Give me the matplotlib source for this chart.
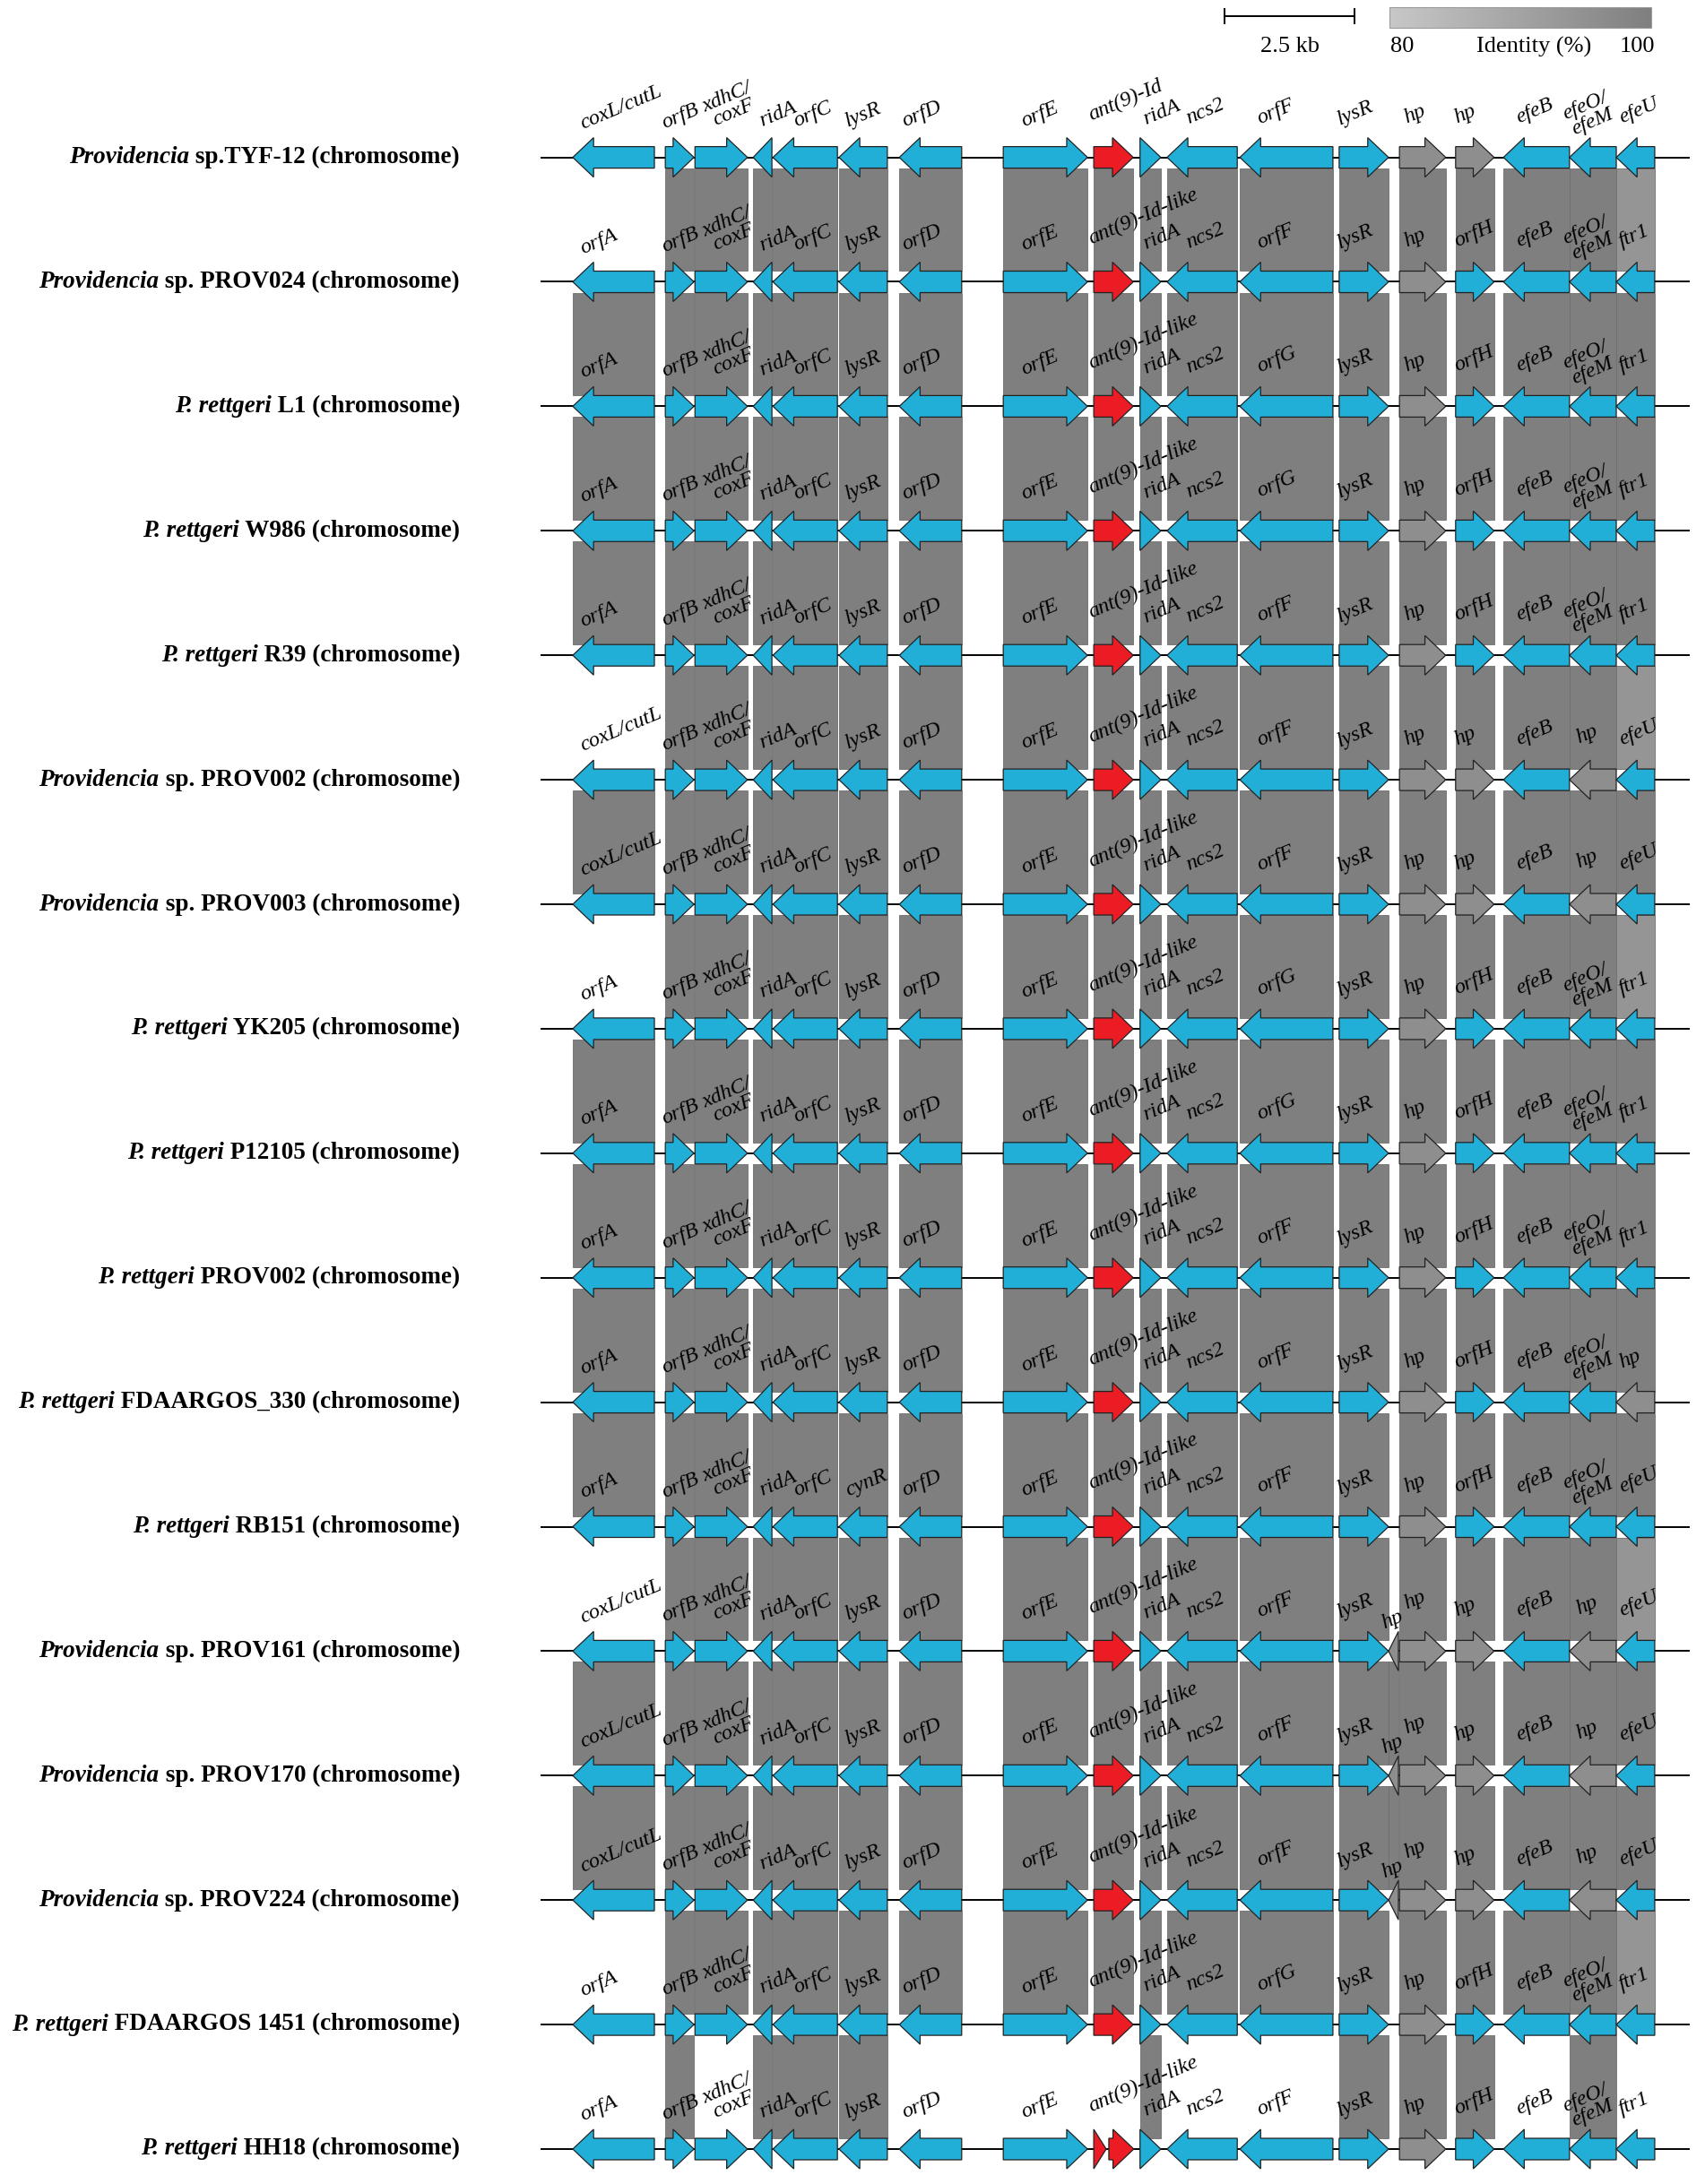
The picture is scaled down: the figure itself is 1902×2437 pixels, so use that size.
import matplotlib
matplotlib.use('Agg')
import matplotlib.pyplot as plt
import numpy as np
from matplotlib.patches import Polygon, Rectangle
from matplotlib.colors import LinearSegmentedColormap, Normalize

plt.rcParams['font.family'] = ['Liberation Serif', 'DejaVu Serif']

# ---- data -------------------------------------------------------------
# strain labels (italic genus part + roman rest)
genus = ['Providencia', 'Providencia', 'P. rettgeri', 'P. rettgeri', 'P. rettgeri',
         'Providencia', 'Providencia', 'P. rettgeri', 'P. rettgeri', 'P. rettgeri',
         'P. rettgeri', 'P. rettgeri', 'Providencia', 'Providencia', 'Providencia',
         'P. rettgeri', 'P. rettgeri']
strain = [' sp.TYF-12 (chromosome)', ' sp. PROV024 (chromosome)', ' L1 (chromosome)',
          ' W986 (chromosome)', ' R39 (chromosome)', ' sp. PROV002 (chromosome)',
          ' sp. PROV003 (chromosome)', ' YK205 (chromosome)', ' P12105 (chromosome)',
          ' PROV002 (chromosome)', ' FDAARGOS_330 (chromosome)', ' RB151 (chromosome)',
          ' sp. PROV161 (chromosome)', ' sp. PROV170 (chromosome)', ' sp. PROV224 (chromosome)',
          ' FDAARGOS 1451 (chromosome)', ' HH18 (chromosome)']

# gene slots, kb from the left end of the fragment
slot_start = [0.62, 2.40, 2.97, 4.09, 4.47, 5.74, 6.90, 8.90, 10.64, 11.53,
              12.05, 13.45, 15.36, 16.52, 17.60, 18.52, 19.79, 20.69]
slot_end = [2.19, 2.95, 3.98, 4.45, 5.71, 6.67, 8.10, 10.52, 11.40, 11.93,
            13.40, 15.24, 16.31, 17.41, 18.34, 19.79, 20.69, 21.43]
slot_strand = [-1, 1, 1, -1, -1, -1, -1, 1, 1, 1, -1, -1, 1, 1, 1, -1, -1, -1]
fragment_len = 22.10

# per-row gene names for the slots that change
first_gene = ['coxL/cutL', 'orfA', 'orfA', 'orfA', 'orfA', 'coxL/cutL', 'coxL/cutL', 'orfA', 'orfA',
              'orfA', 'orfA', 'orfA', 'coxL/cutL', 'coxL/cutL', 'coxL/cutL', 'orfA', 'orfA']
lysr_col = ['lysR'] * 11 + ['cynR'] + ['lysR'] * 5
ant_col = ['ant(9)-Id'] + ['ant(9)-Id-like'] * 16
orff_col = ['orfF', 'orfF', 'orfG', 'orfG', 'orfF', 'orfF', 'orfF', 'orfG', 'orfG',
            'orfF', 'orfF', 'orfF', 'orfF', 'orfF', 'orfF', 'orfG', 'orfF']
hp2_col = ['hp', 'orfH', 'orfH', 'orfH', 'orfH', 'hp', 'hp', 'orfH', 'orfH',
           'orfH', 'orfH', 'orfH', 'hp', 'hp', 'hp', 'orfH', 'orfH']
efeo_col = ['efeO/\nefeM', 'efeO/\nefeM', 'efeO/\nefeM', 'efeO/\nefeM', 'efeO/\nefeM', 'hp', 'hp',
            'efeO/\nefeM', 'efeO/\nefeM', 'efeO/\nefeM', 'efeO/\nefeM', 'efeO/\nefeM', 'hp', 'hp', 'hp',
            'efeO/\nefeM', 'efeO/\nefeM']
efeu_col = ['efeU', 'ftr1', 'ftr1', 'ftr1', 'ftr1', 'efeU', 'efeU', 'ftr1', 'ftr1',
            'ftr1', 'hp', 'efeU', 'efeU', 'efeU', 'efeU', 'ftr1', 'ftr1']

# extra small hp gene (rows PROV161/170/224)
tiny_hp_rows = [12, 13, 14]
tiny_hp = (16.31, 16.50, -1)
# split ant(9) in HH18
hh18_ant_parts = [(10.64, 10.88), (10.93, 11.41)]
# slots shared between FDAARGOS 1451 and HH18
hh18_shared = [1, 3, 4, 5, 9, 12, 13, 14, 16]
# identity of the last-slot (efeU/ftr1) band per row pair
efeu_identity = [94, 100, 100, 100, 94, 100, 94, 100, 100, 100, 100, 94, 100, 100, 94, 100]

# ---- layout -----------------------------------------------------------
W, H = 1902, 2437
PX_KB = 58.0           # pixels per kb
X0 = 603.0             # pixel of kb 0
ROW0, ROWD = 175.6, 138.9
BH, HH, HL = 12 / ROWD, 22 / ROWD, 0.40

BLUE, RED, GREY = '#22afd7', '#ec1c24', '#8e8e8e'
cmap = LinearSegmentedColormap.from_list('ident', ['#c8c8c8', '#7f7f7f'])
norm = Normalize(80, 100)

def py(px):
    return (px - ROW0) / ROWD

def kb(px):
    return (px - X0) / PX_KB

fig = plt.figure(figsize=(W / 100, H / 100), dpi=100)
ax = fig.add_axes([0, 0, 1, 1])
ax.set_xlim(kb(0), kb(W))
ax.set_ylim(py(H), py(0))
ax.axis('off')

n = len(genus)
rows = []
for i in range(n):
    names = [first_gene[i], 'orfB', 'xdhC/\ncoxF', 'ridA', 'orfC', lysr_col[i], 'orfD', 'orfE',
             ant_col[i], 'ridA', 'ncs2', orff_col[i], 'lysR', 'hp', hp2_col[i], 'efeB',
             efeo_col[i], efeu_col[i]]
    rows.append(names)


def gene_pts(s, e, strand, y):
    L = e - s
    if strand > 0:
        tip, back, sgn = e, s, -1
    else:
        tip, back, sgn = s, e, 1
    if L <= HL:
        return [(back, y - HH), (tip, y), (back, y + HH)]
    base = tip + sgn * HL
    return [(back, y - BH), (base, y - BH), (base, y - HH), (tip, y),
            (base, y + HH), (base, y + BH), (back, y + BH)]


# bands between neighbouring rows
for i in range(n - 1):
    y1, y2 = i + BH, i + 1 - BH
    for j in range(len(slot_start)):
        if i == n - 2 and j not in hh18_shared:
            continue
        if j == 0 and first_gene[i] != first_gene[i + 1]:
            continue
        ident = efeu_identity[i] if j == len(slot_start) - 1 else 100
        ax.add_patch(Rectangle((slot_start[j], y1), slot_end[j] - slot_start[j], y2 - y1,
                               facecolor=cmap(norm(ident)), edgecolor='#6e6e6e',
                               lw=0.6, zorder=1))
    if i in tiny_hp_rows and i + 1 in tiny_hp_rows:
        ax.add_patch(Rectangle((tiny_hp[0], y1), tiny_hp[1] - tiny_hp[0], y2 - y1,
                               facecolor=cmap(norm(100)), edgecolor='#6e6e6e', lw=0.6, zorder=1))

# label anchor (bottom-left of text box), px
lab_x = [652, 743, 796, 852, 890, 948, 1011, 1144, 1219, 1280,
         1328, 1407, 1497, 1571, 1627, 1696, 1756, 1811]
lab_dy = [-27, -28, -29, -30, -30, -30, -30, -30, -37, -32,
          -33, -33, -32, -34, -34, -34, -20, -34]
ROT = 23
FS_GENE = 17.5

for i, names in enumerate(rows):
    ax.plot([0, fragment_len], [i, i], color='black', lw=1.4, zorder=2,
            solid_capstyle='butt')
    for j, name in enumerate(names):
        s, e, st = slot_start[j], slot_end[j], slot_strand[j]
        col = GREY if name == 'hp' else (RED if j == 8 else BLUE)
        if j == 8 and i == n - 1:
            for a, b in hh18_ant_parts:
                ax.add_patch(Polygon(gene_pts(a, b, st, i), closed=True, facecolor=col,
                                     edgecolor='#222222', lw=0.9, zorder=3))
        else:
            ax.add_patch(Polygon(gene_pts(s, e, st, i), closed=True, facecolor=col,
                                 edgecolor='#222222', lw=0.9, zorder=3))
        lx = kb(lab_x[j])
        ldy = lab_dy[j]
        if j == 16 and name == 'hp':
            lx, ldy = kb(1763), -36
        if j == 13 and i in tiny_hp_rows:
            ldy = -42
        ax.text(lx, i + ldy / ROWD, name, rotation=ROT, rotation_mode='anchor',
                ha='left', va='bottom', fontsize=FS_GENE, style='italic',
                multialignment='center', linespacing=0.85, zorder=4)
    if i in tiny_hp_rows:
        ax.add_patch(Polygon(gene_pts(tiny_hp[0], tiny_hp[1], tiny_hp[2], i), closed=True,
                             facecolor=GREY, edgecolor='#222222', lw=0.9, zorder=3))
        ax.text(kb(1546), i - 20 / ROWD, 'hp', rotation=ROT, rotation_mode='anchor',
                ha='left', va='bottom', fontsize=FS_GENE, style='italic', zorder=4)

# strain names
fig.canvas.draw()
rend = fig.canvas.get_renderer()
inv = ax.transData.inverted()
x_right = kb(513)
FS_NAME = 19.5
for i in range(n):
    t = ax.text(x_right, i, strain[i], ha='right', va='center', fontsize=FS_NAME,
                fontweight='bold')
    bb = t.get_window_extent(renderer=rend)
    x_left = inv.transform((bb.x0, bb.y0))[0]
    ax.text(x_left, i, genus[i], ha='right', va='center', fontsize=FS_NAME,
            fontweight='bold', style='italic')

# scale bar
sb0 = kb(1366)
sy = py(18)
ax.plot([sb0, sb0 + 2.5], [sy, sy], color='black', lw=1.4)
for xx in (sb0, sb0 + 2.5):
    ax.plot([xx, xx], [sy - 8 / ROWD, sy + 8 / ROWD], color='black', lw=1.4)
ax.text(sb0 + 1.25, py(52), '2.5 kb', ha='center', va='center', fontsize=19)

# identity colour bar
grad = np.linspace(80, 100, 256).reshape(1, -1)
ax.imshow(grad, cmap=cmap, norm=norm, aspect='auto',
          extent=(kb(1550), kb(1842), py(31), py(8)), zorder=2)
ax.add_patch(Rectangle((kb(1550), py(8)), kb(1842) - kb(1550), py(31) - py(8),
                       fill=False, edgecolor='#9a9a9a', lw=0.8, zorder=3))
ax.text(kb(1551), py(52), '80', ha='left', va='center', fontsize=19)
ax.text(kb(1711), py(52), 'Identity (%)', ha='center', va='center', fontsize=19)
ax.text(kb(1846), py(52), '100', ha='right', va='center', fontsize=19)

ax.set_xlim(kb(0), kb(W))
ax.set_ylim(py(H), py(0))
fig.savefig('out.png', dpi=100)
